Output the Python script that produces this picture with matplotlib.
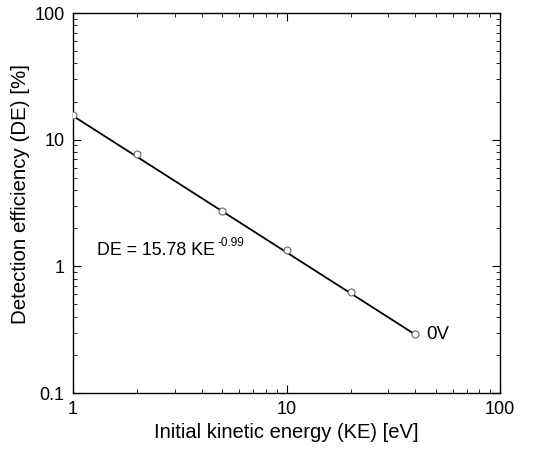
import matplotlib.pyplot as plt
import matplotlib.ticker as ticker

plt.rcParams['font.family'] = ['Liberation Sans', 'DejaVu Sans']

# Datos
ke = [1, 2, 5, 10, 20, 40]                  # Energia cinetica inicial [eV]
de = [15.6, 7.7, 2.72, 1.34, 0.63, 0.29]    # Eficiencia de deteccion [%]

# Recta de ajuste (extremos)
fit_ke = [1, 40]
fit_de = [15.4, 0.29]

fig = plt.figure(figsize=(5.33, 4.51), dpi=100)
ax = fig.add_axes([73/533, 1 - 393/451, 427/533, 380/451])

ax.plot(fit_ke, fit_de, color='black', linewidth=1.3, zorder=2)
ax.plot(ke, de, linestyle='none', marker='o', markersize=5,
        markerfacecolor='white', markeredgecolor='#666666', markeredgewidth=0.8, zorder=3)

ax.set_xscale('log')
ax.set_yscale('log')
ax.set_xlim(1, 100)
ax.set_ylim(0.1, 100)

fmt = ticker.FuncFormatter(lambda v, p: f'{v:g}')
ax.xaxis.set_major_formatter(fmt)
ax.yaxis.set_major_formatter(fmt)
ax.xaxis.set_minor_formatter(ticker.NullFormatter())
ax.yaxis.set_minor_formatter(ticker.NullFormatter())

ax.tick_params(which='both', direction='in', top=True, right=True, labelsize=13)
ax.tick_params(which='major', length=6, width=0.8, pad=6)
ax.tick_params(which='minor', length=3, width=0.6)
for s in ax.spines.values():
    s.set_linewidth(1.0)

ax.set_xlabel('Initial kinetic energy (KE) [eV]', fontsize=14.5, labelpad=3)
ax.set_ylabel('Detection efficiency (DE) [%]', fontsize=14.8)
ax.yaxis.set_label_coords(-0.10, 0.525)

# Ecuacion del ajuste
ax.text(1.3, 1.22, 'DE = 15.78 KE', fontsize=12.8, va='baseline')
ax.annotate('-0.99', xy=(1.3, 1.22), xytext=(120, 9), textcoords='offset pixels',
            fontsize=8.5, va='baseline')
ax.text(45, 0.29, '0V', fontsize=13.5, va='center')

fig.savefig('out.png', dpi=100)
